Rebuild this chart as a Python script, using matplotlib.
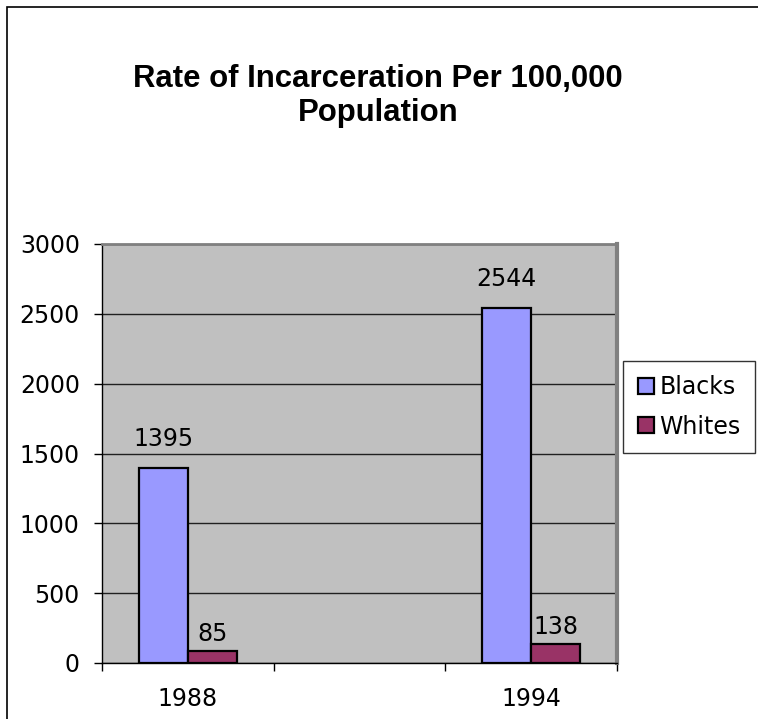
import matplotlib.pyplot as plt
from matplotlib.patches import Rectangle
from matplotlib.lines import Line2D

# chart data
years = [1988, 1994]
blacks = [1395, 2544]
whites = [85, 138]
series_names = ['Blacks', 'Whites']

plt.rcParams['font.family'] = ['DejaVu Sans']
fs = 17

fig = plt.figure(figsize=(7.58, 7.19), dpi=100)
ax = fig.add_axes([102 / 758, 1 - 663 / 719, 515 / 758, 419 / 719])
ax.set_facecolor('#C0C0C0')

bar_w = 0.86
colors = ['#9999FF', '#993366']
b1 = ax.bar([y - bar_w / 2 for y in years], blacks, width=bar_w, align='center',
            color=colors[0], edgecolor='black', linewidth=1.6, zorder=3)
b2 = ax.bar([y + bar_w / 2 for y in years], whites, width=bar_w, align='center',
            color=colors[1], edgecolor='black', linewidth=1.6, zorder=3)

# value labels
for bars, vals, off in [(b1, blacks, 17), (b2, whites, 5)]:
    for rect, v in zip(bars, vals):
        ax.annotate(str(v), (rect.get_x() + rect.get_width() / 2, rect.get_height()),
                    xytext=(0, off), textcoords='offset pixels',
                    ha='center', va='bottom', fontsize=fs)

ax.set_ylim(0, 3000)
ax.set_yticks(range(0, 3001, 500))
ax.yaxis.grid(True, color='#202020', linewidth=1)
ax.set_axisbelow(True)
ax.tick_params(axis='y', direction='out', length=6, width=1, pad=10, labelsize=fs)

ax.set_xlim(years[0] - 1.5, years[-1] + 1.5)
ax.set_xticks([1986.5, 1989.5, 1992.5, 1995.5])
ax.set_xticklabels([])
ax.set_xticks(years, minor=True)
ax.set_xticklabels([str(y) for y in years], minor=True)
ax.tick_params(axis='x', which='major', direction='out', length=6, width=1)
ax.tick_params(axis='x', which='minor', length=0, pad=17, labelsize=fs)

for s in ['left', 'bottom']:
    ax.spines[s].set_color('black')
    ax.spines[s].set_linewidth(1)
ax.spines['top'].set_color('#808080')
ax.spines['top'].set_linewidth(2)
ax.spines['right'].set_color('#808080')
ax.spines['right'].set_linewidth(3)

fig.text(378 / 758, 1 - 96 / 719, 'Rate of Incarceration Per 100,000\nPopulation',
         ha='center', va='center', fontsize=22.4, fontweight='bold',
         family='Liberation Sans', linespacing=1.2)

# chart area border
fig.patches.append(Rectangle((7 / 758, -0.05), 1.05, 1 - 7 / 719 + 0.05,
                             transform=fig.transFigure, fill=False,
                             edgecolor='black', linewidth=1.2))

handles = [Line2D([], [], marker='s', linestyle='none', markersize=12,
                  markerfacecolor=c, markeredgecolor='black', markeredgewidth=1.6)
           for c in colors]
leg = fig.legend(handles, series_names, loc='upper left',
                 bbox_to_anchor=(623 / 758, 1 - 361 / 719),
                 fontsize=fs, frameon=True, fancybox=False, edgecolor='black',
                 handletextpad=0.2, handlelength=0.75, borderpad=0.6,
                 labelspacing=0.65, borderaxespad=0)
leg.get_frame().set_linewidth(1)

fig.savefig('out.png', dpi=100)
